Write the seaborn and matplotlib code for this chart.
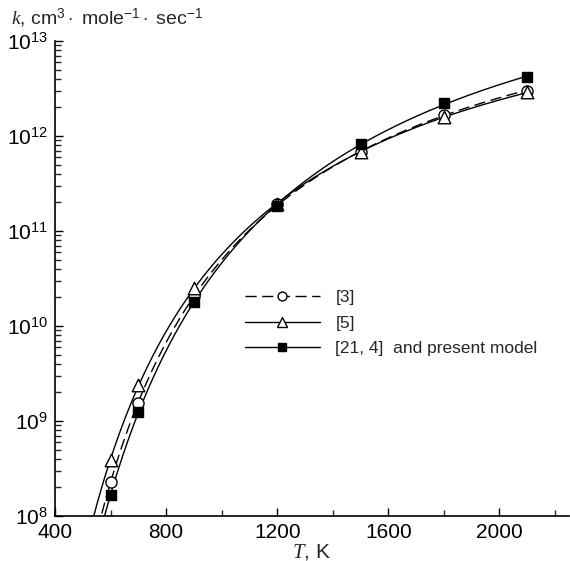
import numpy as np
import pandas as pd
import matplotlib
matplotlib.use("Agg")
import matplotlib.pyplot as plt
import seaborn as sns
from matplotlib.lines import Line2D
from matplotlib.ticker import LogLocator, MultipleLocator, NullFormatter, FixedLocator, FixedFormatter

# ---- data ----
T = [600, 700, 900, 1200, 1500, 1800, 2100]
k_ref3 = [2.3e8, 1.55e9, 2.05e10, 1.9e11, 6.8e11, 1.66e12, 3.0e12]
k_ref5 = [3.9e8, 2.4e9, 2.5e10, 1.9e11, 6.7e11, 1.6e12, 2.9e12]
k_model = [1.66e8, 1.24e9, 1.8e10, 1.85e11, 8.2e11, 2.2e12, 4.2e12]
labels = ["[3]", "[5]", "[21, 4]  and present model"]
x_ticks = [400, 800, 1200, 1600, 2000]
y_ticks = [1e8, 1e9, 1e10, 1e11, 1e12, 1e13]
y_tick_labels = [r"$10^{8}$", r"$10^{9}$", r"$10^{10}$", r"$10^{11}$", r"$10^{12}$", r"$10^{13}$"]

sns.set_style("ticks")
plt.rcParams["font.family"] = ["Liberation Sans", "DejaVu Sans"]
plt.rcParams["mathtext.fontset"] = "custom"
plt.rcParams["mathtext.rm"] = "Liberation Sans"
plt.rcParams["mathtext.it"] = "Liberation Serif:italic"
plt.rcParams["mathtext.bf"] = "Liberation Sans:bold"

fig = plt.figure(figsize=(5.70, 5.61), dpi=100)
ax = fig.add_axes([0.0965, 0.0802, 0.9015, 0.8468])

series = [
    (k_ref3, "o", "white", (8, 4), 8),
    (k_ref5, "^", "white", None, 9),
    (k_model, "s", "black", None, 6.5),
]

handles = []
for (vals, mk, fc, dash, ms), lab in zip(series, labels):
    inv = 1.0 / np.array(T, dtype=float)
    coef = np.polyfit(inv, np.log10(vals), 2)
    tg = np.linspace(520, 2100, 400)
    curve = pd.DataFrame({"T": tg, "k": 10 ** np.polyval(coef, 1.0 / tg)})
    n0 = len(ax.lines)
    sns.lineplot(data=curve, x="T", y="k", ax=ax, color="black", lw=1.0, zorder=2)
    if dash is not None:
        ax.lines[n0].set_dashes(dash)
    pts = pd.DataFrame({"T": T, "k": vals})
    sns.scatterplot(data=pts, x="T", y="k", ax=ax, marker=mk, s=ms ** 2,
                    facecolor=fc, edgecolor="black", linewidth=1.0, zorder=3)
    h = Line2D([], [], color="black", lw=1.0, marker=mk, markersize=ms * 0.8,
               markerfacecolor=fc, markeredgecolor="black")
    if dash is not None:
        h.set_dashes(dash)
    handles.append(h)

ax.set_yscale("log")
ax.set_xlim(400, 2250)
ax.set_ylim(1e8, 1e13)

ax.xaxis.set_major_locator(FixedLocator(x_ticks))
ax.xaxis.set_minor_locator(MultipleLocator(200))
ax.yaxis.set_major_locator(FixedLocator(y_ticks))
ax.yaxis.set_major_formatter(FixedFormatter(y_tick_labels))
ax.yaxis.set_minor_locator(LogLocator(base=10, subs=np.arange(2, 10), numticks=20))
ax.yaxis.set_minor_formatter(NullFormatter())

ax.tick_params(axis="both", which="major", direction="in", length=6, width=1.0,
               labelsize=15, colors="black", pad=5)
ax.tick_params(axis="both", which="minor", direction="in", length=4, width=1.0)
for s in ["top", "right"]:
    ax.spines[s].set_visible(False)
for s in ["left", "bottom"]:
    ax.spines[s].set_linewidth(1.2)
    ax.spines[s].set_color("black")

ax.set_xlabel(r"$T$, K", fontsize=15, labelpad=0)
ax.set_ylabel("")
fig.text(0.02, 0.968, r"$k$, cm$^{3}\cdot$ mole$^{-1}\cdot$ sec$^{-1}$", fontsize=14,
         ha="left", va="center")

leg = ax.legend(handles, labels, loc="upper left", bbox_to_anchor=(0.43, 0.483),
                bbox_transform=fig.transFigure, frameon=False, fontsize=12.5,
                borderpad=0, borderaxespad=0,
                handlelength=4.3, handletextpad=0.9, labelspacing=0.6)

fig.savefig("out.png", dpi=100)
